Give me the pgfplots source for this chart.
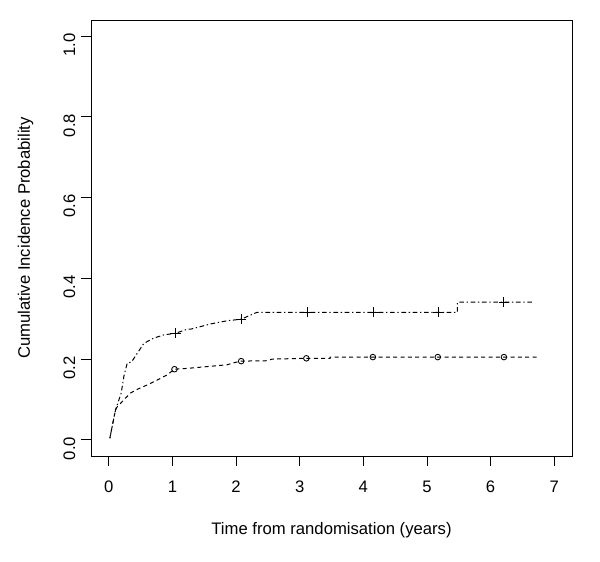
\documentclass[border=0pt]{standalone}
\usepackage{fontspec}
\setmainfont{Liberation Sans}
\usepackage{pgfplots}
\pgfplotsset{compat=1.18}

\begin{document}
\fontsize{12.5}{15}\selectfont
\begin{tikzpicture}
\begin{axis}[scale only axis, width=360.75pt, height=327pt,
  xmin=-0.28, xmax=7.28, ymin=-0.04, ymax=1.04,
  xtick={0,1,2,3,4,5,6,7}, ytick={0,0.2,0.4,0.6,0.8,1.0},
  yticklabels={0.0,0.2,0.4,0.6,0.8,1.0},
  tick align=outside, major tick length=7.5pt,
  tick style={black, line width=0.6pt},
  xtick pos=bottom, ytick pos=left,
  axis line style={line width=0.6pt},
  /pgf/number format/assume math mode=true,
  xticklabel style={anchor=north, yshift=-7pt},
  yticklabel style={rotate=90, anchor=south, xshift=-6.5pt},
  xlabel={Time from randomisation (years)},
  ylabel={Cumulative Incidence Probability},
  xlabel style={at={(axis description cs:0.5,0)}, anchor=center, yshift=-55.5pt},
  ylabel style={at={(axis description cs:0,0.5)}, anchor=center, rotate=0, yshift=49pt},
  clip=false]
% upper curve (dot-dash, +)
\addplot[black, line width=0.75pt, dash pattern=on 1pt off 2pt on 3.5pt off 2pt] coordinates {
 (0.016,0.004)(0.105,0.074)(0.195,0.116)(0.236,0.157)(0.289,0.190)(0.357,0.193)
 (0.446,0.214)(0.55,0.239)(0.707,0.252)(0.864,0.260)(1.048,0.264)(1.231,0.274)
 (1.283,0.274)(1.597,0.287)(1.86,0.295)(2.084,0.299)(2.226,0.309)(2.33,0.316)
 (5.48,0.316)(5.48,0.341)(6.686,0.341)};
\addplot[black, only marks, mark=+, mark size=3.8pt, line width=0.65pt] coordinates {
 (1.048,0.264)(2.084,0.299)(3.12,0.316)(4.16,0.316)(5.18,0.316)(6.21,0.341)};
% lower curve (dashed, o)
\addplot[black, line width=0.75pt, dash pattern=on 3pt off 2.5pt] coordinates {
 (0.016,0.004)(0.105,0.074)(0.132,0.082)(0.236,0.099)(0.341,0.116)(0.446,0.125)
 (0.603,0.136)(0.76,0.148)(0.917,0.161)(1.032,0.175)(1.231,0.177)(1.86,0.186)
 (1.963,0.191)(2.08,0.195)(2.488,0.196)(2.566,0.200)(3.105,0.202)(3.48,0.202)
 (3.48,0.205)(6.73,0.205)};
\addplot[black, only marks, mark=o, mark size=2.1pt, line width=0.65pt] coordinates {
 (1.032,0.175)(2.08,0.195)(3.105,0.202)(4.15,0.205)(5.17,0.205)(6.21,0.205)};
\end{axis}
\pgfresetboundingbox
\path[use as bounding box] (-68.25pt,-78.75pt) rectangle (381.75pt,342pt);
\end{tikzpicture}
\end{document}
